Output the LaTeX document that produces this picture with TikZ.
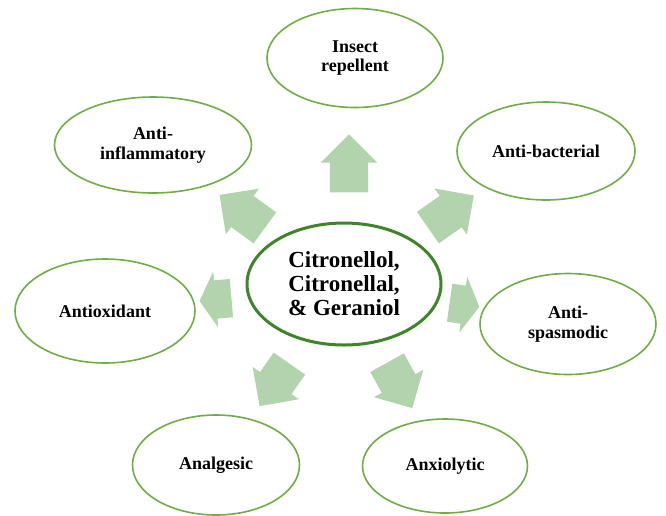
\documentclass[tikz,border=0pt]{standalone}
\usepackage{fontspec}
\setmainfont{Liberation Serif}
\usetikzlibrary{shapes.geometric,shapes.arrows}
\definecolor{leafgreen}{RGB}{112,173,71}
\definecolor{darkleaf}{RGB}{62,132,40}
\definecolor{paleleaf}{RGB}{178,212,172}

\begin{document}
\begin{tikzpicture}[x=1pt, y=-1pt,
    effect/.style={ellipse, draw=leafgreen, line width=1.6pt, fill=white, align=center,
                   font=\fontsize{18}{19.5}\selectfont\bfseries, inner sep=0pt},
    oil/.style={effect, draw=darkleaf, line width=3pt,
                font=\fontsize{23}{24}\selectfont\bfseries},
    push/.style={single arrow, fill=paleleaf, draw=none, inner xsep=0pt, inner ysep=19pt,
                 minimum width=56pt, single arrow head extend=9pt}
  ]
    \useasboundingbox (0,0) rectangle (666,515);

    % block arrows pointing out to the effects
    \node[push, minimum height=58pt, rotate=90]  (aup)  at (349,173) {};
    \node[push, minimum height=56pt, rotate=35]  (aur)  at (443,217) {};
    \node[push, minimum height=56pt, rotate=144] (aul)  at (250,217) {};
    \node[push, minimum height=32pt, rotate=185, single arrow tip angle=120] (al) at (221,299) {};
    \node[push, minimum height=30pt, rotate=352, single arrow tip angle=120] (ar) at (459,304) {};
    \node[push, minimum height=52pt, rotate=235] (adl)  at (280,377) {};
    \node[push, minimum height=52pt, rotate=299] (adr)  at (395,377) {};

    \node[oil, minimum width=194pt, minimum height=122pt] (oils) at (344,284)
        {Citronellol,\\Citronellal,\\\& Geraniol};

    \node[effect, minimum width=176pt, minimum height=99pt]  (insect)  at (355,58)  {Insect\\repellent};
    \node[effect, minimum width=197pt, minimum height=96pt]  (inflam)  at (153,145) {Anti-\\inflammatory};
    \node[effect, minimum width=178pt, minimum height=98pt]  (bact)    at (546,151) {Anti-bacterial};
    \node[effect, minimum width=180pt, minimum height=104pt] (oxid)    at (105,311) {Antioxidant};
    \node[effect, minimum width=176pt, minimum height=101pt] (spasm)   at (568,324) {Anti-\\spasmodic};
    \node[effect, minimum width=167pt, minimum height=100pt] (analg)   at (216,465) {Analgesic};
    \node[effect, minimum width=165pt, minimum height=94pt]  (anxio)   at (445,466) {Anxiolytic};
\end{tikzpicture}
\end{document}
